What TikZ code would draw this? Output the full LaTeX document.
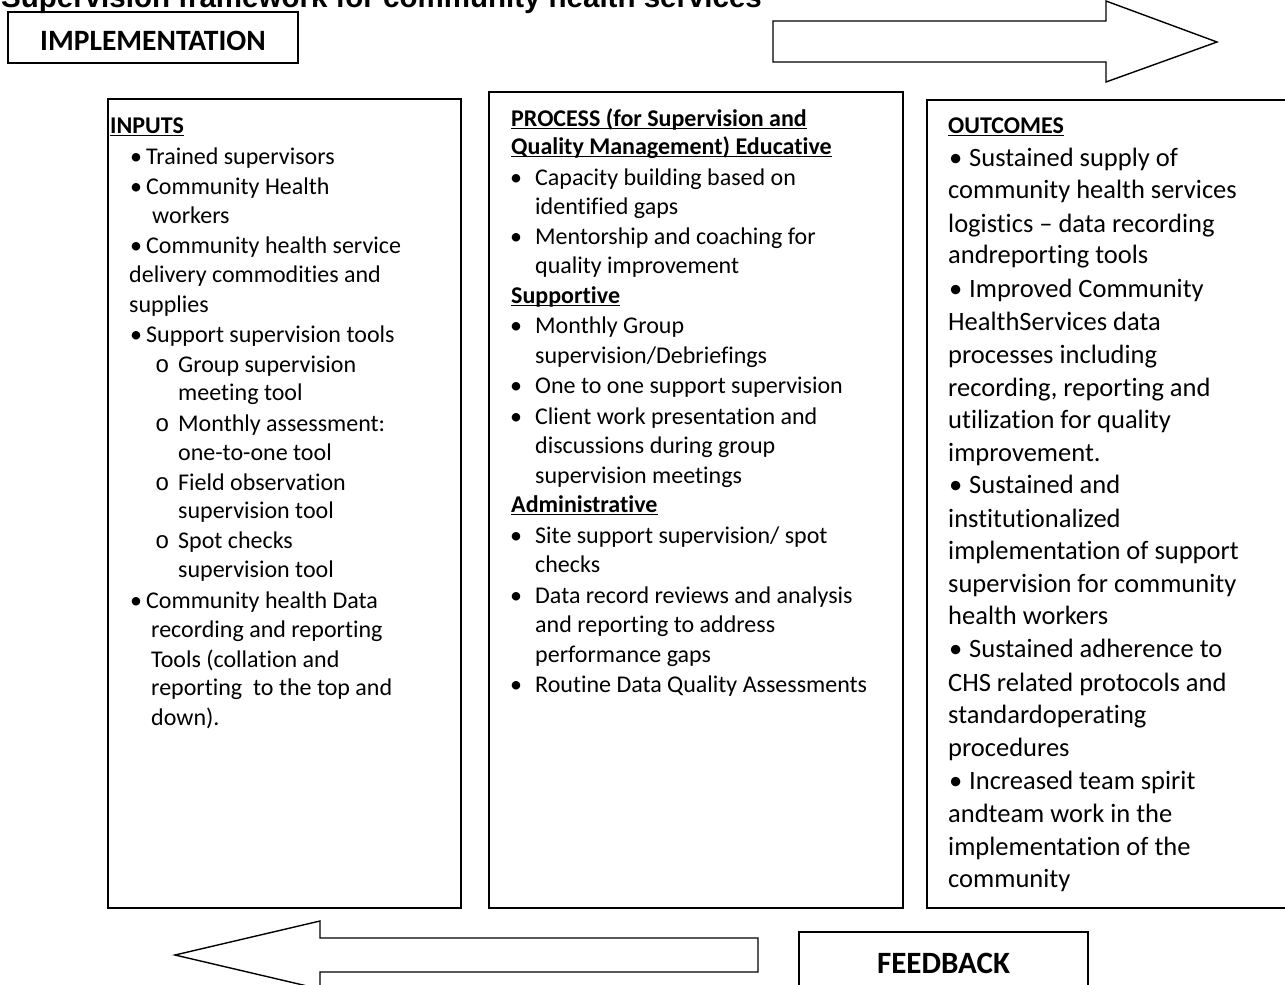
\documentclass[tikz,border=0pt]{standalone}
\usepackage{fontspec}
\setmainfont{Carlito}[Ligatures={TeX,NoCommon}]
\newfontfamily\titlefont{Liberation Sans}
\newfontfamily\cirfont{Liberation Mono}
\newsavebox\ulbox
\newcommand\ulx[1]{\sbox\ulbox{#1}\rlap{\rule[-3.2pt]{\wd\ulbox}{1.6pt}}\usebox\ulbox}
\newcommand\bl[1]{\makebox[#1][l]{•}}
\newcommand\cir{\makebox[23pt][l]{\cirfont o}}
\begin{document}
\begin{tikzpicture}[x=1pt,y=-1pt,
  txt/.style={anchor=base west, inner sep=0pt, font=\fontsize{24}{29}\selectfont},
  otxt/.style={anchor=base west, inner sep=0pt, font=\fontsize{26.5}{32}\selectfont},
  hd/.style={anchor=base west, inner sep=0pt, font=\fontsize{24}{29}\selectfont\bfseries},
  frame/.style={draw, line width=1.5pt, anchor=north west, inner sep=0pt, outer sep=0pt},
  lbl/.style={anchor=base, inner sep=0pt, font=\fontsize{29.5}{30}\selectfont\bfseries},
  bigarrow/.style={draw, line width=1.4pt, line join=miter}]
\useasboundingbox (0,0) rectangle (1285,985);

% title
\node[anchor=base west, inner sep=0pt, font=\titlefont\bfseries\fontsize{29.5}{30}\selectfont] (title) at (1,7) {Supervision framework for community health services};

% implementation / feedback
\node[frame, minimum width=290pt, minimum height=51pt] (impl) at (8,12) {};
\node[lbl] (impltxt) at (153,50) {IMPLEMENTATION};
\node[frame, minimum width=289pt, minimum height=80pt] (feed) at (799,932) {};
\node[lbl, font=\fontsize{31}{32}\selectfont\bfseries] (feedtxt) at (943.5,973) {FEEDBACK};

% arrows
\draw[bigarrow] (773,21) -- (1106,21) -- (1106,1) -- (1217,42) -- (1106,82) -- (1106,62) -- (773,62) -- cycle;
\draw[bigarrow] (758,938) -- (320,938) -- (320,921) -- (175,955) -- (320,989) -- (320,972) -- (758,972) -- cycle;

% frames
\node[frame, minimum width=353pt, minimum height=809pt] (inputs) at (108,99) {};
\node[frame, minimum width=414pt, minimum height=816pt] (process) at (489,92) {};
\node[frame, minimum width=400pt, minimum height=808pt] (outcomes) at (927,100) {};

% INPUTS
\node[hd] (i0) at (110,133) {\ulx{INPUTS}};
\node[txt] (i1) at (130,164) {\bl{16pt}Trained supervisors};
\node[txt] (i2) at (130,194) {\bl{16pt}Community Health};
\node[txt] (i3) at (152,223) {workers};
\node[txt] (i4) at (130,253) {\bl{16pt}Community health service};
\node[txt] (i5) at (129,282) {delivery commodities and};
\node[txt] (i6) at (129,312) {supplies};
\node[txt] (i7) at (130,342) {\bl{16pt}Support supervision tools};
\node[txt] (i8) at (155,372) {\cir Group supervision};
\node[txt] (i9) at (178,400) {meeting tool};
\node[txt] (i10) at (155,431) {\cir Monthly assessment:};
\node[txt] (i11) at (178,460) {one-to-one tool};
\node[txt] (i12) at (155,490) {\cir Field observation};
\node[txt] (i13) at (178,518) {supervision tool};
\node[txt] (i14) at (155,548) {\cir Spot checks};
\node[txt] (i15) at (178,577) {supervision tool};
\node[txt] (i16) at (130,608) {\bl{16pt}Community health Data};
\node[txt] (i17) at (151,637) {recording and reporting};
\node[txt] (i18) at (151,667) {Tools (collation and};
\node[txt] (i19) at (151,695) {reporting\ \ to the top and};
\node[txt] (i20) at (151,725) {down).};

% PROCESS
\node[hd] (p0) at (511,126) {\ulx{PROCESS (for Supervision and}};
\node[hd] (p1) at (511,154) {\ulx{Quality Management) Educative}};
\node[txt] (p2) at (510,185) {\bl{25pt}Capacity building based on};
\node[txt] (p3) at (535,214) {identified gaps};
\node[txt] (p4) at (510,244) {\bl{25pt}Mentorship and coaching for};
\node[txt] (p5) at (535,273) {quality improvement};
\node[hd] (p6) at (511,303) {\ulx{Supportive}};
\node[txt] (p7) at (510,333) {\bl{25pt}Monthly Group};
\node[txt] (p8) at (535,363) {supervision/Debriefings};
\node[txt] (p9) at (510,393) {\bl{25pt}One to one support supervision};
\node[txt] (p10) at (510,424) {\bl{25pt}Client work presentation and};
\node[txt] (p11) at (535,453) {discussions during group};
\node[txt] (p12) at (535,483) {supervision meetings};
\node[hd] (p13) at (511,512) {\ulx{Administrative}};
\node[txt] (p14) at (510,543) {\bl{25pt}Site support supervision/ spot};
\node[txt] (p15) at (535,572) {checks};
\node[txt] (p16) at (510,603) {\bl{25pt}Data record reviews and analysis};
\node[txt] (p17) at (535,632) {and reporting to address};
\node[txt] (p18) at (535,662) {performance gaps};
\node[txt] (p19) at (510,692) {\bl{25pt}Routine Data Quality Assessments};

% OUTCOMES
\node[hd] (o0) at (948,133) {\ulx{OUTCOMES}};
\node[otxt] (o1) at (949,166) {\bl{20pt}Sustained supply of};
\node[otxt] (o2) at (948,198) {community health services};
\node[otxt] (o3) at (948,232) {logistics – data recording};
\node[otxt] (o4) at (948,263) {andreporting tools};
\node[otxt] (o5) at (949,297) {\bl{20pt}Improved Community};
\node[otxt] (o6) at (948,330) {HealthServices data};
\node[otxt] (o7) at (948,363) {processes including};
\node[otxt] (o8) at (948,396) {recording, reporting and};
\node[otxt] (o9) at (948,428) {utilization for quality};
\node[otxt] (o10) at (948,461) {improvement.};
\node[otxt] (o11) at (949,493) {\bl{20pt}Sustained and};
\node[otxt] (o12) at (948,527) {institutionalized};
\node[otxt] (o13) at (948,559) {implementation of support};
\node[otxt] (o14) at (948,592) {supervision for community};
\node[otxt] (o15) at (948,624) {health workers};
\node[otxt] (o16) at (949,657) {\bl{20pt}Sustained adherence to};
\node[otxt] (o17) at (948,691) {CHS related protocols and};
\node[otxt] (o18) at (948,723) {standardoperating};
\node[otxt] (o19) at (948,756) {procedures};
\node[otxt] (o20) at (949,789) {\bl{20pt}Increased team spirit};
\node[otxt] (o21) at (948,822) {andteam work in the};
\node[otxt] (o22) at (948,855) {implementation of the};
\node[otxt] (o23) at (948,887) {community};
\end{tikzpicture}
\end{document}
